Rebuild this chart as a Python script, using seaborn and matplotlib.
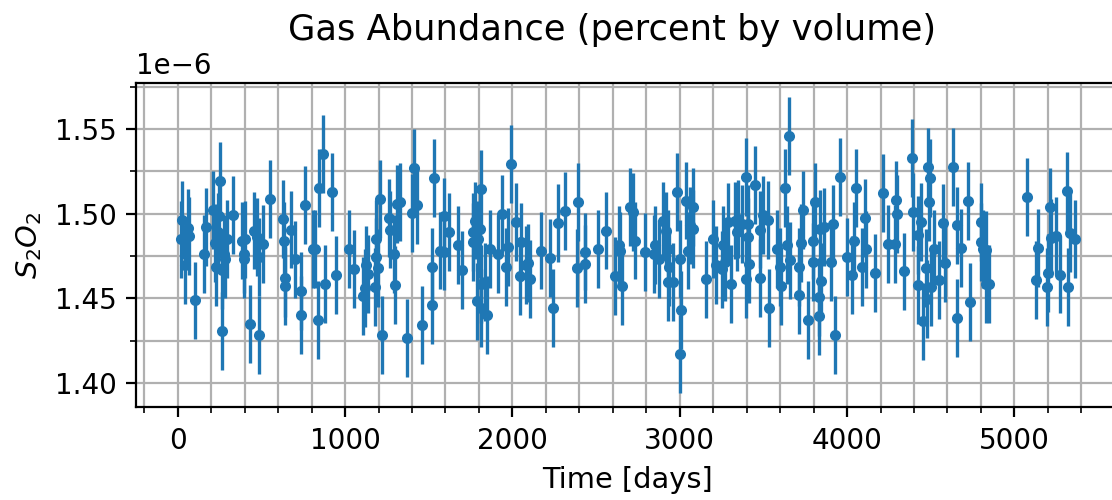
import numpy as np
import matplotlib
matplotlib.use("Agg")
import matplotlib.pyplot as plt
import seaborn as sns
from matplotlib.ticker import MultipleLocator

# ---- data (values in units of 1e-6) ----
days = [24, 18, 64, 70, 44, 104, 170, 160, 250, 210, 244, 220, 230, 238, 264, 274, 294, 330, 264, 284,
        384, 404, 394, 398, 430, 454, 474, 508, 484, 488, 550, 628, 634, 680, 640, 642, 700, 734, 734, 758,
        806, 820, 846, 870, 880, 840, 922, 946, 1026, 1054, 1110, 1124, 1120, 1140, 1186, 1186, 1194, 1180,
        1206, 1220, 1260, 1266, 1290, 1300, 1310, 1326, 1410, 1400, 1430, 1370, 1460, 1520, 1520, 1530, 1570,
        1594, 1590, 1620, 1674, 1698, 1774, 1764, 1764, 1814, 1804, 1794, 1814, 1788, 1814, 1850, 1834, 1868,
        1914, 1940, 1960, 1974, 1994, 2024, 2054, 2044, 2080, 2094, 2104, 2174, 2224, 2244, 2274, 2314, 2384,
        2394, 2434,
        2436, 2510, 2560, 2616, 2636, 2644, 2656, 2704, 2720, 2730, 2790, 2850, 2844, 2876, 2900, 2916, 2930,
        2936, 2930, 2960, 2986, 3000, 3006, 3000, 3040, 3060, 3080, 3080, 3050, 3156, 3196, 3216, 3250, 3260,
        3270, 3290, 3304, 3330, 3350, 3340, 3370, 3410, 3396, 3410, 3396, 3416, 3450, 3480, 3496, 3526, 3480,
        3536, 3580, 3600, 3606, 3630, 3654, 3640, 3660, 3710, 3714, 3734, 3726, 3764, 3796, 3806, 3794, 3834,
        3834, 3846, 3840, 3860, 3904, 3916, 3926, 3960, 4000, 4030, 4040, 4056, 4090, 4106,
        4114, 4170, 4214, 4244, 4284, 4294, 4298, 4340, 4390, 4394, 4424, 4444, 4424, 4454, 4474, 4478, 4484,
        4498, 4490, 4504, 4518, 4550, 4574, 4586, 4634, 4658, 4660, 4680, 4724, 4734, 4798, 4800, 4810, 4830,
        4830, 4848,
        5074, 5140, 5130, 5210, 5200, 5196, 5220, 5246, 5270, 5316, 5320, 5334, 5364]

abundance = [1.4963, 1.4847, 1.4914, 1.4870, 1.4694, 1.4487, 1.4920, 1.4759, 1.5195, 1.5022, 1.4988, 1.4827,
             1.4684, 1.4890, 1.4664, 1.4762, 1.4851, 1.4992, 1.4305, 1.4733,
             1.4841, 1.4847, 1.4762, 1.4729, 1.4346, 1.4900, 1.4861, 1.4821, 1.4743, 1.4285, 1.5087, 1.4969,
             1.4841, 1.4906, 1.4621, 1.4572, 1.4729, 1.4542, 1.4403, 1.5051,
             1.4792, 1.4792, 1.5152, 1.5352, 1.4582, 1.4370, 1.5126, 1.4635, 1.4792, 1.4674, 1.4513, 1.4694,
             1.4560, 1.4645, 1.4851, 1.4743, 1.4678, 1.4566, 1.5087, 1.4281, 1.4973, 1.4906, 1.4762, 1.4576,
             1.5057, 1.5067, 1.5270, 1.5002, 1.5051, 1.4265, 1.4340, 1.4684, 1.4458, 1.5211, 1.4782,
             1.4983, 1.4776, 1.4890, 1.4817, 1.4668, 1.4959, 1.4890, 1.4831, 1.5146, 1.4910, 1.4847, 1.4586,
             1.4481, 1.4442, 1.4403, 1.4595, 1.4792, 1.4759, 1.4998, 1.4684, 1.4802, 1.5293, 1.4949, 1.4831,
             1.4631, 1.4694, 1.4709, 1.4615, 1.4782, 1.4737, 1.4442, 1.4943, 1.5014, 1.4678, 1.5071, 1.4776,
             1.4704, 1.4792, 1.4900, 1.4631, 1.4815, 1.4782, 1.4570, 1.5038, 1.5012, 1.4841, 1.4772, 1.4812,
             1.4759, 1.4733, 1.4955, 1.4896, 1.4792, 1.4684, 1.4595, 1.4595, 1.5126, 1.4733, 1.4428, 1.4173,
             1.5077, 1.4930, 1.4910, 1.5038, 1.4782, 1.4611, 1.4851, 1.4698, 1.4670, 1.4812,
             1.4713, 1.4949, 1.4586, 1.4959, 1.4969, 1.4890, 1.4939, 1.4939, 1.5215, 1.4861, 1.4615, 1.4704,
             1.5171, 1.4906, 1.4992, 1.4963, 1.4621, 1.4442, 1.4792, 1.4684, 1.4570, 1.5152, 1.5456, 1.4817,
             1.4723, 1.4684, 1.4520, 1.5022, 1.4825, 1.4369, 1.4713, 1.5067, 1.4841, 1.4507, 1.4395, 1.4599,
             1.4910, 1.4920, 1.4713, 1.4939, 1.4281, 1.5215, 1.4743, 1.4635, 1.4841, 1.5150, 1.4684, 1.4975,
             1.4788, 1.4650, 1.5122, 1.4821, 1.4821, 1.5083, 1.4998, 1.4658, 1.5329, 1.5008, 1.4871, 1.4949,
             1.4576, 1.4363, 1.4678, 1.4497, 1.5277, 1.5209, 1.5067, 1.4566, 1.4792, 1.4609, 1.4943, 1.4709,
             1.5277, 1.4930, 1.4385, 1.4798, 1.5073, 1.4477, 1.4949, 1.4831, 1.4792, 1.4786, 1.4586, 1.4586,
             1.5100, 1.4798, 1.4609, 1.5038, 1.4650, 1.4566, 1.4855, 1.4867, 1.4640, 1.5136, 1.4566, 1.4884,
             1.4851]

abundance_err = 0.023  # same uncertainty for every measurement (1e-6 units)

title = "Gas Abundance (percent by volume)"
xlabel = "Time [days]"
ylabel = "$S_2O_2$"

# ---- style ----
sns.set_style("ticks", rc={
    "axes.edgecolor": "black", "text.color": "black", "axes.labelcolor": "black",
    "xtick.color": "black", "ytick.color": "black",
    "grid.color": "#b0b0b0", "grid.linewidth": 0.8,
    "axes.linewidth": 0.8,
})
plt.rcParams.update({
    "font.family": ["DejaVu Sans"],
    "font.size": 10, "axes.labelsize": 10.4, "axes.titlesize": 12.7,
    "xtick.labelsize": 10, "ytick.labelsize": 10,
    "xtick.major.size": 3.5, "ytick.major.size": 3.5,
    "xtick.minor.size": 2.0, "ytick.minor.size": 2.0,
    "xtick.major.width": 0.8, "ytick.major.width": 0.8,
    "xtick.minor.width": 0.6, "ytick.minor.width": 0.6,
})

df_x = np.array(days, dtype=float)
df_y = np.array(abundance) * 1e-6

fig = plt.figure(figsize=(5.56, 2.5), dpi=200)
ax = fig.add_axes([136 / 1112, 0.1854, 984 / 1112, 0.8346 - 0.1854])

color = "#1f77b4"
ax.errorbar(df_x, df_y, yerr=abundance_err * 1e-6, fmt="none", ecolor=color, elinewidth=1.2, zorder=2)
sns.scatterplot(x=df_x, y=df_y, ax=ax, color=color, s=16, linewidth=0, zorder=3)

ax.xaxis.set_minor_locator(MultipleLocator(200))
ax.yaxis.set_minor_locator(MultipleLocator(0.025e-6))
ax.grid(True, which="both")
ax.set_axisbelow(True)

ax.set_xlabel(xlabel)
ax.set_ylabel(ylabel)
ax.set_title(title, x=0.4837, pad=15.5)

fig.savefig("out.png", dpi=200)
